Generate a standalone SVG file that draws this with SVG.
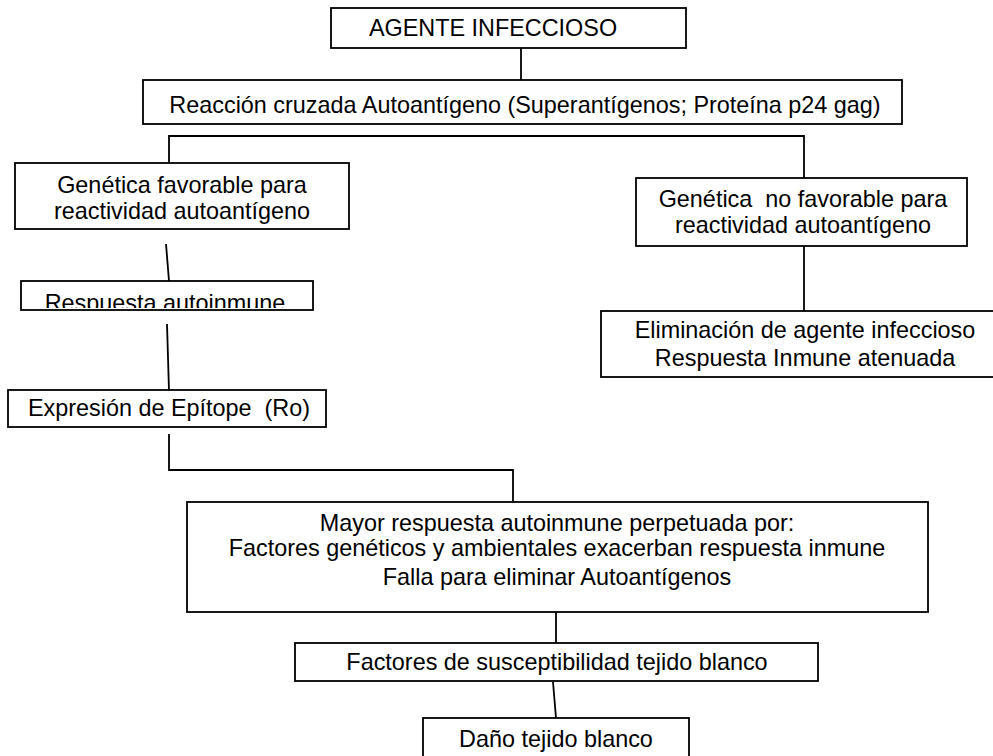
<svg xmlns="http://www.w3.org/2000/svg" width="993" height="756" viewBox="0 0 993 756">
<style>
.box{fill:#fff;stroke:#000;stroke-width:1.8}
.con{fill:none;stroke:#000;stroke-width:1.8}
text{font-family:"Liberation Sans",Arial,sans-serif;font-size:23.4px;fill:#000;text-anchor:middle}
</style>
<defs>
<clipPath id="clipResp"><rect x="22" y="281" width="290" height="27"/></clipPath>
</defs>
<rect width="993" height="756" fill="#fff"/>
<g id="connectors">
<line class="con" x1="521" y1="48" x2="521" y2="80"/>
<polyline class="con" points="169,163 169,136 804,136 804,178"/>
<line class="con" x1="166" y1="244" x2="169" y2="281"/>
<line class="con" x1="167" y1="324" x2="169" y2="391"/>
<polyline class="con" points="169,434 169,470 513,470 513,502"/>
<line class="con" x1="804" y1="246" x2="804" y2="311"/>
<line class="con" x1="556" y1="612" x2="556" y2="643"/>
<line class="con" x1="553" y1="682" x2="556" y2="718"/>
</g>
<g id="n1">
<rect class="box" x="331" y="8" width="355" height="40"/>
<text x="493" y="36">AGENTE INFECCIOSO</text>
</g>
<g id="n2">
<rect class="box" x="143" y="80" width="759" height="44"/>
<text x="525" y="113">Reacción cruzada Autoantígeno (Superantígenos; Proteína p24 gag)</text>
</g>
<g id="n3">
<rect class="box" x="15" y="163" width="334" height="66"/>
<text x="182" y="193">Genética favorable para</text>
<text x="182" y="219">reactividad autoantígeno</text>
</g>
<g id="n4">
<rect class="box" x="636" y="178" width="331" height="68"/>
<text x="803" y="207" xml:space="preserve">Genética  no favorable para</text>
<text x="803" y="233">reactividad autoantígeno</text>
</g>
<g id="n5">
<rect class="box" x="601" y="311" width="420" height="66"/>
<text x="805" y="338">Eliminación de agente infeccioso</text>
<text x="805" y="366">Respuesta Inmune atenuada</text>
</g>
<g id="n6">
<rect class="box" x="21" y="281" width="292" height="29"/>
<text x="165" y="311" clip-path="url(#clipResp)">Respuesta autoinmune</text>
</g>
<g id="n7">
<rect class="box" x="8" y="390" width="318" height="37"/>
<text x="169" y="416" xml:space="preserve">Expresión de Epítope  (Ro)</text>
</g>
<g id="n8">
<rect class="box" x="187" y="502" width="741" height="110"/>
<text x="557" y="531">Mayor respuesta autoinmune perpetuada por:</text>
<text x="557" y="556">Factores genéticos y ambientales exacerban respuesta inmune</text>
<text x="557" y="585">Falla para eliminar Autoantígenos</text>
</g>
<g id="n9">
<rect class="box" x="295" y="643" width="523" height="38"/>
<text x="557" y="670">Factores de susceptibilidad tejido blanco</text>
</g>
<g id="n10">
<rect class="box" x="423" y="718" width="266" height="60"/>
<text x="556" y="747">Daño tejido blanco</text>
</g>
</svg>
